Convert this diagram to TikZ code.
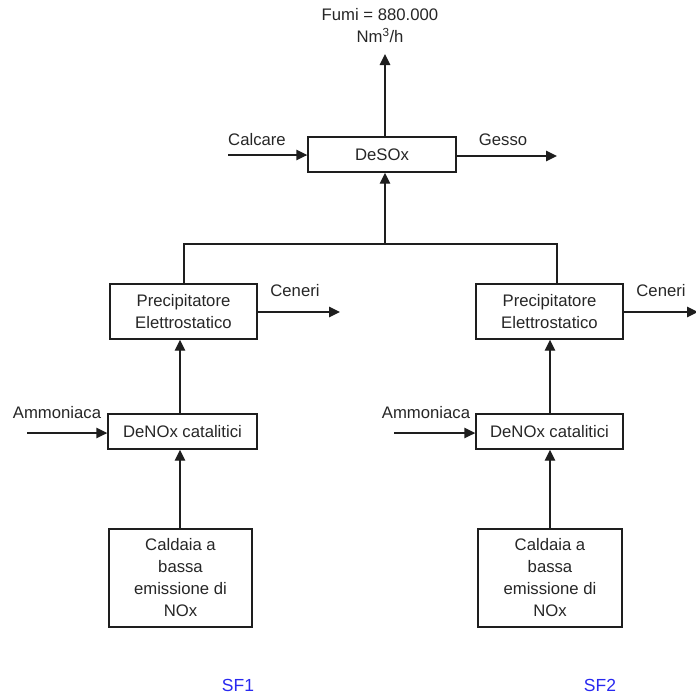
\documentclass[tikz,border=0pt]{standalone}
\usepackage{fontspec}
\setmainfont{Liberation Sans}
\usetikzlibrary{arrows.meta}
\definecolor{linegray}{RGB}{30,30,30}
\definecolor{sfblue}{RGB}{40,40,240}
\begin{document}
\begin{tikzpicture}[x=1pt,y=-1pt,
  font=\fontsize{16.7}{22}\selectfont,
  unit/.style={draw=linegray,line width=1.4pt,align=center,inner sep=2pt,text=black!85},
  flow/.style={draw=linegray,line width=1.4pt,-{Triangle[length=11pt,width=10.5pt]}},
  pipe/.style={draw=linegray,line width=1.4pt},
  lbl/.style={text=black!85,inner sep=0pt},
  tag/.style={text=sfblue,inner sep=0pt,font=\fontsize{17.5}{20}\selectfont}]
\useasboundingbox (0,0) rectangle (696,694);

% process units
\node[unit,minimum width=148pt,minimum height=35pt] (desox) at (382,154.5) {DeSOx};
\node[unit,minimum width=147pt,minimum height=55pt] (precL) at (183.5,311.5) {Precipitatore\\Elettrostatico};
\node[unit,minimum width=147pt,minimum height=55pt] (precR) at (549.5,311.5) {Precipitatore\\Elettrostatico};
\node[unit,minimum width=149pt,minimum height=35pt] (denoxL) at (182.5,431.5) {DeNOx catalitici};
\node[unit,minimum width=147pt,minimum height=35pt] (denoxR) at (549.5,431.5) {DeNOx catalitici};
\node[unit,minimum width=143pt,minimum height=98pt] (caldL) at (180.5,578) {Caldaia a\\bassa\\emissione di\\NOx};
\node[unit,minimum width=144pt,minimum height=98pt] (caldR) at (550,578) {Caldaia a\\bassa\\emissione di\\NOx};

% free ends of the streams and riser lines
\coordinate (fumiOut) at (385,54);
\coordinate (calcIn) at (228,155);
\coordinate (gessoOut) at (557,156);
\coordinate (busL) at (184,244);
\coordinate (busM) at (385,244);
\coordinate (busR) at (557,244);
\coordinate (riseL) at (180,0);
\coordinate (riseR) at (550,0);
\coordinate (cenLOut) at (340,312);
\coordinate (cenROut) at (698,312);
\coordinate (ammLIn) at (27,433);
\coordinate (ammRIn) at (394,433);

% labels
\node[lbl,align=center] (fumi) at (380,26) {Fumi = 880.000\\Nm\textsuperscript{3}/h};
\node[lbl] (calcare) at (257,140) {Calcare};
\node[lbl] (gesso) at (503,140) {Gesso};
\node[lbl] (cenL) at (295,291) {Ceneri};
\node[lbl] (cenR) at (661,291) {Ceneri};
\node[lbl] (ammL) at (57,413) {Ammoniaca};
\node[lbl] (ammR) at (426,413) {Ammoniaca};
\node[tag] (sf1) at (238,685) {SF1};
\node[tag] (sf2) at (600,685) {SF2};

% flue gas path
\draw[flow] (caldL.north -| riseL) -- (denoxL.south -| riseL);
\draw[flow] (caldR.north -| riseR) -- (denoxR.south -| riseR);
\draw[flow] (denoxL.north -| riseL) -- (precL.south -| riseL);
\draw[flow] (denoxR.north -| riseR) -- (precR.south -| riseR);
\draw[pipe] (precL.north -| busL) -- (busL) -- (busR) -- (precR.north -| busR);
\draw[flow] (busM) -- (desox.south -| busM);
\draw[flow] (desox.north -| fumiOut) -- (fumiOut);

% side streams
\draw[flow] (calcIn) -- (desox.west |- calcIn);
\draw[flow] (desox.east |- gessoOut) -- (gessoOut);
\draw[flow] (precL.east |- cenLOut) -- (cenLOut);
\draw[flow] (precR.east |- cenROut) -- (cenROut);
\draw[flow] (ammLIn) -- (denoxL.west |- ammLIn);
\draw[flow] (ammRIn) -- (denoxR.west |- ammRIn);
\end{tikzpicture}
\end{document}
